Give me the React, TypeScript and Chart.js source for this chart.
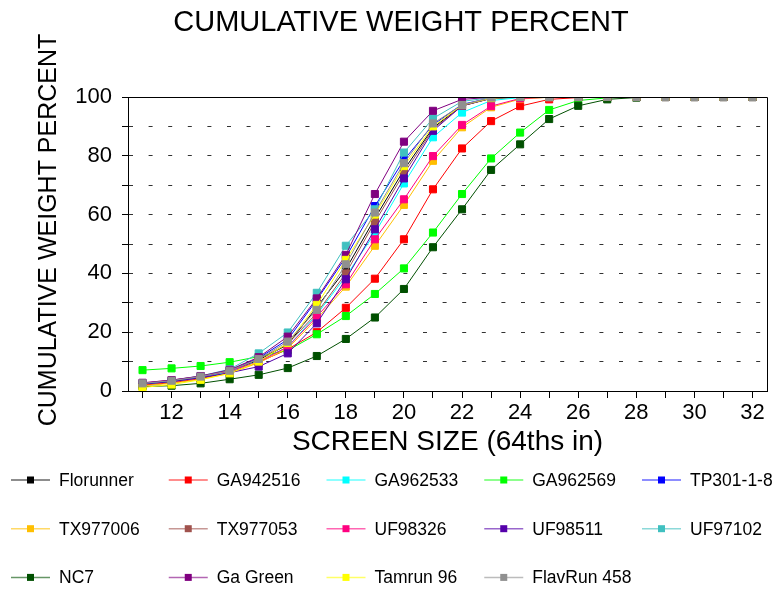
import React, { useEffect, useRef } from 'react';
import { Chart, registerables } from 'chart.js';

Chart.register(...registerables);

const FONT = '"Liberation Sans", Arial, sans-serif';

const chartTitle = 'CUMULATIVE WEIGHT PERCENT';
const xAxisTitle = 'SCREEN SIZE (64ths in)';
const yAxisTitle = 'CUMULATIVE WEIGHT PERCENT';

const screenSizes = [11, 12, 13, 14, 15, 16, 17, 18, 19, 20, 21, 22, 23, 24, 25, 26, 27, 28, 29, 30, 31, 32];
const xTickValues = screenSizes;
const yTickValues = [0, 10, 20, 30, 40, 50, 60, 70, 80, 90, 100];

const seriesNames = [
  'Florunner', 'GA942516', 'GA962533', 'GA962569', 'TP301-1-8',
  'TX977006', 'TX977053', 'UF98326', 'UF98511', 'UF97102',
  'NC7', 'Ga Green', 'Tamrun 96', 'FlavRun 458',
];

const seriesColors = [
  '#000000', '#FF0000', '#00FFFF', '#00FF00', '#0000FF',
  '#FFBF00', '#A0524D', '#FF0080', '#5500AA', '#40C0C0',
  '#005000', '#800080', '#FFFF00', '#909090',
];

const florunner = [2.3, 3.2, 4.6, 6.7, 10.5, 15.8, 28.5, 41.4, 58.7, 75.2, 89.5, 97.0, 99.5, 99.9, 100, 100, 100, 100, 100, 100, 100, 100];
const ga942516 = [2.0, 2.8, 4.2, 6.3, 9.8, 14.2, 20.0, 28.3, 38.2, 51.6, 68.6, 82.5, 91.8, 96.9, 99.2, 99.8, 100, 100, 100, 100, 100, 100];
const ga962533 = [2.4, 3.3, 4.7, 6.6, 10.2, 15.0, 26.0, 39.0, 53.7, 70.6, 86.3, 94.7, 98.8, 99.8, 100, 100, 100, 100, 100, 100, 100, 100];
const ga962569 = [7.1, 7.7, 8.5, 9.8, 11.7, 13.8, 19.3, 25.5, 33.0, 41.7, 53.9, 67.0, 79.1, 87.9, 95.6, 98.8, 99.7, 100, 100, 100, 100, 100];
const tp301 = [2.5, 3.4, 4.9, 7.0, 11.2, 17.5, 31.0, 45.5, 62.9, 78.6, 90.5, 97.5, 99.7, 100, 100, 100, 100, 100, 100, 100, 100, 100];
const tx977006 = [1.8, 2.6, 4.0, 6.0, 9.6, 14.5, 24.5, 35.5, 49.4, 63.3, 78.3, 89.7, 96.5, 99.3, 99.9, 100, 100, 100, 100, 100, 100, 100];
const tx977053 = [2.6, 3.6, 5.0, 6.9, 10.8, 16.0, 26.5, 40.0, 57.5, 74.0, 89.0, 97.0, 99.6, 100, 100, 100, 100, 100, 100, 100, 100, 100];
const uf98326 = [2.7, 3.7, 5.0, 6.8, 10.0, 15.0, 25.3, 36.3, 51.6, 65.2, 79.9, 90.5, 96.9, 99.5, 99.9, 100, 100, 100, 100, 100, 100, 100];
const uf98511 = [2.4, 3.2, 4.5, 6.2, 8.3, 12.8, 23.0, 38.0, 55.0, 72.3, 88.5, 97.0, 99.6, 100, 100, 100, 100, 100, 100, 100, 100, 100];
const uf97102 = [2.6, 3.6, 5.1, 7.4, 12.8, 19.9, 33.4, 49.4, 61.8, 81.1, 92.7, 98.5, 99.8, 100, 100, 100, 100, 100, 100, 100, 100, 100];
const nc7 = [1.5, 1.8, 2.6, 4.0, 5.5, 7.8, 11.9, 17.7, 25.0, 34.7, 48.9, 61.8, 75.2, 83.9, 92.5, 97.0, 99.2, 99.8, 100, 100, 100, 100];
const gaGreen = [2.8, 3.7, 5.1, 7.2, 11.5, 18.5, 31.5, 46.3, 67.0, 84.8, 95.3, 99.2, 99.9, 100, 100, 100, 100, 100, 100, 100, 100, 100];
const tamrun96 = [1.2, 2.2, 3.8, 6.0, 10.0, 16.3, 29.3, 44.6, 60.0, 76.5, 90.0, 97.2, 99.6, 100, 100, 100, 100, 100, 100, 100, 100, 100];
const flavrun458 = [2.6, 3.5, 4.9, 6.9, 10.9, 16.8, 27.6, 43.1, 60.7, 77.5, 91.0, 97.3, 99.8, 100, 100, 100, 100, 100, 100, 100, 100, 100];

const seriesValues = [
  florunner, ga942516, ga962533, ga962569, tp301,
  tx977006, tx977053, uf98326, uf98511, uf97102,
  nc7, gaGreen, tamrun96, flavrun458,
];

function hexToRgba(hex: string, a: number) {
  const n = parseInt(hex.slice(1), 16);
  return `rgba(${(n >> 16) & 255},${(n >> 8) & 255},${n & 255},${a})`;
}

const decorPlugin = {
  id: 'decor',
  afterDraw(chart: any) {
    const { ctx, chartArea } = chart;
    ctx.save();
    // frame
    ctx.strokeStyle = '#000';
    ctx.lineWidth = 1;
    ctx.setLineDash([]);
    const l = Math.round(chartArea.left) + 0.5;
    const r = Math.round(chartArea.right) + 0.5;
    const t = Math.round(chartArea.top) + 0.5;
    const b = Math.round(chartArea.bottom) + 0.5;
    ctx.beginPath();
    ctx.moveTo(l, t);
    ctx.lineTo(r, t);
    ctx.lineTo(r, b);
    ctx.lineTo(l, b);
    ctx.closePath();
    ctx.stroke();

    ctx.fillStyle = '#000';
    // main title
    ctx.font = `29px ${FONT}`;
    ctx.textAlign = 'center';
    ctx.textBaseline = 'alphabetic';
    ctx.fillText(chartTitle, 401, 31);

    // x axis title
    ctx.font = `28px ${FONT}`;
    ctx.fillText(xAxisTitle, (chartArea.left + chartArea.right) / 2, 450);

    // y axis title
    ctx.save();
    ctx.translate(56, 230);
    ctx.rotate(-Math.PI / 2);
    ctx.font = `25px ${FONT}`;
    ctx.fillText(yAxisTitle, 0, 0);
    ctx.restore();

    // legend
    ctx.font = `17.5px ${FONT}`;
    ctx.textAlign = 'left';
    ctx.textBaseline = 'middle';
    seriesNames.forEach((name, i) => {
      const col = i % 5;
      const row = Math.floor(i / 5);
      const x0 = 11 + col * 157.75;
      const y = 480 + row * 48.7;
      const color = seriesColors[i];
      ctx.strokeStyle = hexToRgba(color, 0.6);
      ctx.lineWidth = 1.5;
      ctx.beginPath();
      ctx.moveTo(x0, y);
      ctx.lineTo(x0 + 39, y);
      ctx.stroke();
      ctx.fillStyle = color;
      ctx.fillRect(x0 + 16, y - 3.5, 7, 7);
      ctx.fillStyle = '#000';
      ctx.fillText(name, x0 + 48, y + 1);
    });
    ctx.restore();
  },
};

export default function App() {
  const canvasRef = useRef<HTMLCanvasElement | null>(null);

  useEffect(() => {
    const canvas = canvasRef.current;
    if (!canvas) return;
    const n = seriesNames.length;
    const chart = new Chart(canvas, {
      type: 'line',
      data: {
        datasets: seriesNames.map((name, i) => ({
          label: name,
          data: screenSizes.map((x, j) => ({ x, y: seriesValues[i][j] })),
          borderColor: seriesColors[i],
          backgroundColor: seriesColors[i],
          pointBackgroundColor: seriesColors[i],
          pointBorderColor: seriesColors[i],
          borderWidth: 1,
          pointStyle: 'rect',
          pointRadius: 5,
          pointBorderWidth: 1,
          pointHoverRadius: 5,
          tension: 0,
          fill: false,
          order: n - i,
        })),
      },
      options: {
        responsive: false,
        animation: false,
        events: [],
        layout: { padding: { left: 0, top: 97, right: 9, bottom: 158 } },
        plugins: {
          legend: { display: false },
          title: { display: false },
          tooltip: { enabled: false },
        },
        scales: {
          x: {
            type: 'linear',
            min: 10.5,
            max: 32.5,
            afterBuildTicks: (s: any) => {
              s.ticks = xTickValues.map((v) => ({ value: v }));
            },
            afterFit: (s: any) => {
              s.height = 40;
            },
            grid: {
              drawOnChartArea: false,
              drawTicks: true,
              tickLength: 7,
              tickColor: '#000',
              tickBorderDash: [],
              color: '#000',
            },
            border: { display: true, color: '#000', width: 1 },
            ticks: {
              autoSkip: false,
              maxRotation: 0,
              padding: 2,
              color: '#000',
              font: { family: FONT, size: 22 },
              callback: (v: any) => (Number(v) % 2 === 0 ? String(v) : ''),
            },
          },
          y: {
            type: 'linear',
            min: 0,
            max: 100,
            afterBuildTicks: (s: any) => {
              s.ticks = yTickValues.map((v) => ({ value: v }));
            },
            afterFit: (s: any) => {
              s.width = 128;
            },
            grid: {
              drawOnChartArea: true,
              drawTicks: true,
              tickLength: 6,
              tickColor: '#000',
              tickBorderDash: [],
              color: '#333333',
              lineWidth: 1,
            },
            border: { display: true, color: '#000', width: 1, dash: [4, 15.6] },
            ticks: {
              padding: 10,
              color: '#000',
              font: { family: FONT, size: 22 },
              callback: (v: any) => (Number(v) % 20 === 0 ? String(v) : ''),
            },
          },
        },
      },
      plugins: [decorPlugin],
    } as any);
    return () => chart.destroy();
  }, []);

  return (
    <div style={{ position: 'fixed', left: 0, top: 0, width: 776, height: 589, background: '#fff' }}>
      <canvas ref={canvasRef} width={776} height={589} style={{ width: 776, height: 589, display: 'block' }} />
    </div>
  );
}
